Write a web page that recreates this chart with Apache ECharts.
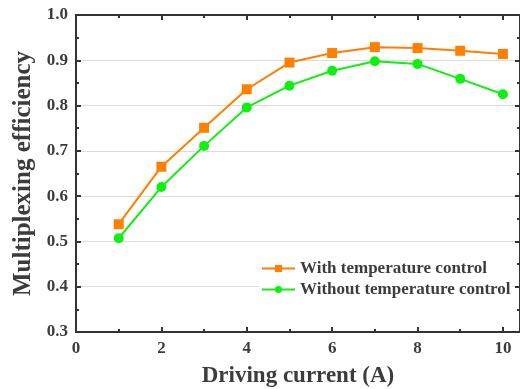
<!DOCTYPE html>
<html><head><meta charset="utf-8">
<script src="https://cdn.jsdelivr.net/npm/echarts@6/dist/echarts.min.js"></script>
<style>html,body{margin:0;padding:0;background:#fff}#c{width:520px;height:389px}</style>
</head><body><div id="c"></div>
<script>
var current = [1,2,3,4,5,6,7,8,9,10];
var withControl = [0.538,0.665,0.751,0.836,0.895,0.916,0.929,0.927,0.921,0.914];
var withoutControl = [0.507,0.620,0.711,0.796,0.844,0.877,0.898,0.892,0.859,0.825];
var seriesNames = ['With temperature control','Without temperature control'];
var xTitle = 'Driving current (A)';
var yTitle = 'Multiplexing efficiency';

function pairs(xs, ys){ return xs.map(function(x,i){return [x, ys[i]];}); }
var font = 'Liberation Serif';
var axisCol = '#333333';
var textCol = '#3c3c3c';
var chart = echarts.init(document.getElementById('c'), null, {renderer:'canvas'});
var commonX = {
  type:'value', min:0, max:10.4, interval:2,
  axisLine:{show:true, onZero:false, lineStyle:{color:axisCol, width:2}},
  axisTick:{show:true, inside:true, length:5, lineStyle:{color:axisCol, width:2}},
  minorTick:{show:true, splitNumber:2, length:3, lineStyle:{color:axisCol, width:2}},
  splitLine:{show:false}
};
var commonY = {
  type:'value', min:0.3, max:1.0, interval:0.1,
  axisLine:{show:true, onZero:false, lineStyle:{color:axisCol, width:2}},
  axisTick:{show:true, inside:true, length:5, lineStyle:{color:axisCol, width:2}},
  minorTick:{show:true, splitNumber:2, length:3, lineStyle:{color:axisCol, width:2}}
};
chart.setOption({
  animation:false,
  backgroundColor:'#fff',
  grid:{left:76, top:15, right:0, bottom:57, containLabel:false, outerBoundsMode:'none'},
  legend:{
    left:259, top:258, orient:'vertical', itemWidth:33, itemHeight:9, itemGap:4,
    backgroundColor:'#fff', padding:[2,2,2,2],
    textStyle:{fontFamily:font, fontWeight:'bold', fontSize:17, color:textCol},
    data:seriesNames
  },
  xAxis:[
    Object.assign({}, commonX, {position:'bottom',
      name:xTitle, nameLocation:'middle', nameGap:33,
      nameTextStyle:{fontFamily:font, fontWeight:'bold', fontSize:23, color:textCol},
      axisLabel:{fontFamily:font, fontWeight:'bold', fontSize:17, color:textCol, margin:8, showMaxLabel:false}}),
    Object.assign({}, commonX, {position:'top', axisLabel:{show:false}})
  ],
  yAxis:[
    Object.assign({}, commonY, {position:'left',
      name:yTitle, nameLocation:'middle', nameGap:39,
      nameTextStyle:{fontFamily:font, fontWeight:'bold', fontSize:25, color:textCol},
      axisLabel:{fontFamily:font, fontWeight:'bold', fontSize:17, color:textCol, margin:8,
        formatter:function(v){return v.toFixed(1);}},
      splitLine:{show:true, lineStyle:{color:'#dcdcdc', width:1}}}),
    Object.assign({}, commonY, {position:'right', axisLabel:{show:false}, splitLine:{show:false}})
  ],
  series:[
    {name:seriesNames[0], type:'line', data:pairs(current, withControl),
      symbol:'rect', symbolSize:10, itemStyle:{color:'#ff7f00'},
      lineStyle:{color:'#ff7f00', width:2}},
    {name:seriesNames[1], type:'line', data:pairs(current, withoutControl),
      symbol:'circle', symbolSize:10, itemStyle:{color:'#11ee11'},
      lineStyle:{color:'#11ee11', width:2}}
  ]
});
</script></body></html>
